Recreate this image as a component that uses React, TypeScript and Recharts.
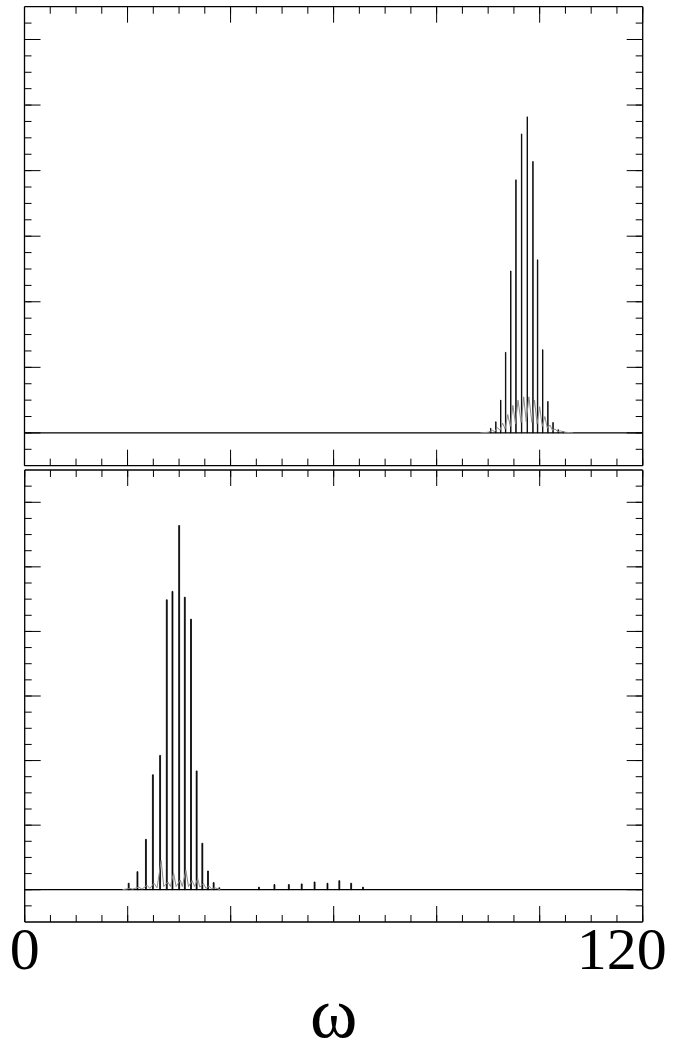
import React from 'react'
import {
  ComposedChart,
  Bar,
  Line,
  XAxis,
  YAxis,
  ReferenceLine,
  Label,
} from 'recharts'

// peak positions (omega) and heights
const topSpikeX = [90.5, 91.5, 92.45, 93.4, 94.4, 95.4, 96.5, 97.6, 98.7, 99.6, 100.6, 101.6, 102.6, 103.6, 104.6]
const topSpikeY = [0.07, 0.17, 0.5, 1.23, 2.47, 3.86, 4.56, 4.82, 4.14, 2.64, 1.27, 0.48, 0.16, 0.05, 0.02]

const topGrayX = [88.5, 90.0, 90.8, 91.3, 91.8, 92.3, 92.8, 93.3, 93.8, 94.3, 94.8, 95.3, 95.8, 96.4, 96.9, 97.4, 97.9, 98.5, 99.0, 99.5, 100.0, 100.5, 101.0, 101.5, 102.0, 102.5, 103.0, 103.5, 104.0, 105.0, 106.5]
const topGrayY = [0, 0.01, 0.04, 0.02, 0.08, 0.04, 0.15, 0.06, 0.28, 0.1, 0.42, 0.14, 0.5, 0.16, 0.55, 0.17, 0.55, 0.16, 0.5, 0.14, 0.4, 0.1, 0.25, 0.07, 0.12, 0.04, 0.06, 0.02, 0.03, 0.01, 0]

const bottomSpikeX = [20.2, 21.9, 23.55, 24.9, 26.3, 27.6, 28.7, 30.0, 31.1, 32.3, 33.4, 34.5, 35.6, 36.7, 37.8, 45.5, 48.5, 51.3, 53.8, 56.3, 58.8, 61.1, 63.4, 65.7]
const bottomSpikeY = [0.1, 0.28, 0.78, 1.78, 2.08, 4.49, 4.62, 5.64, 4.53, 4.19, 1.84, 0.72, 0.29, 0.11, 0.03, 0.04, 0.08, 0.08, 0.09, 0.12, 0.1, 0.14, 0.1, 0.04]

const bottomGrayX = [19, 20.4, 21, 22.1, 22.8, 23.75, 24.3, 25.1, 25.7, 26.5, 27.0, 27.8, 28.3, 28.9, 29.4, 30.2, 30.6, 31.3, 31.8, 32.5, 33.0, 33.6, 34.0, 34.7, 35.2, 35.8, 36.3, 36.9, 38]
const bottomGrayY = [0, 0.02, 0.01, 0.04, 0.01, 0.07, 0.02, 0.1, 0.03, 0.45, 0.05, 0.12, 0.05, 0.26, 0.05, 0.15, 0.05, 0.3, 0.05, 0.14, 0.05, 0.17, 0.04, 0.1, 0.02, 0.06, 0.01, 0.03, 0]

const xMinorTicks = [0, 5, 10, 15, 20, 25, 30, 35, 40, 45, 50, 55, 60, 65, 70, 75, 80, 85, 90, 95, 100, 105, 110, 115, 120]
const xMajorTicks = [0, 20, 40, 60, 80, 100, 120]
const yMinorTicks = [-0.25, 0, 0.25, 0.5, 0.75, 1, 1.25, 1.5, 1.75, 2, 2.25, 2.5, 2.75, 3, 3.25, 3.5, 3.75, 4, 4.25, 4.5, 4.75, 5, 5.25, 5.5, 5.75, 6, 6.25]
const yMajorTicks = [0, 1, 2, 3, 4, 5, 6]
const xLabelTicks = [0, 120]

const FONT = '"Liberation Serif", "Times New Roman", serif'

function buildRows(sx: number[], sy: number[], gx: number[], gy: number[]) {
  const rows: { x: number; spike?: number; gray?: number }[] = []
  sx.forEach((x, i) => rows.push({ x, spike: sy[i] }))
  gx.forEach((x, i) => rows.push({ x, gray: gy[i] }))
  return rows.sort((a, b) => a.x - b.x)
}

// tick lines only, no text
const NoText = () => <g />

// the "120" sits left of the corner so it stays inside the page
function EdgeTick(props: any) {
  const { x, y, payload } = props
  const last = payload.value === 120
  return (
    <text x={last ? x - 21 : x} y={y} dy="0.71em" textAnchor="middle"
      fill="#000" fontSize={60} fontFamily={FONT}>
      {payload.value}
    </text>
  )
}

interface PanelProps {
  rows: { x: number; spike?: number; gray?: number }[]
  height: number
  margin: { top: number; right: number; bottom: number; left: number }
  withLabels?: boolean
}

function Panel({ rows, height, margin, withLabels }: PanelProps) {
  const line = { stroke: '#000', strokeWidth: 1.3 }
  const tl = { stroke: '#000', strokeWidth: 1 }
  const xCommon = { dataKey: 'x', type: 'number' as const, domain: [0, 120], allowDataOverflow: true, interval: 0 as const }
  const yCommon = { type: 'number' as const, domain: [-0.5, 6.5], allowDataOverflow: true, interval: 0 as const }
  return (
    <ComposedChart width={678} height={height} data={rows} margin={margin}>
      <XAxis xAxisId="x" {...xCommon} orientation="bottom" mirror height={1} ticks={xMinorTicks}
        tick={NoText} tickSize={7} tickLine={tl} axisLine={line} />
      <XAxis xAxisId="xb" {...xCommon} orientation="bottom" mirror height={1} ticks={xMajorTicks}
        tick={NoText} tickSize={15} tickLine={tl} axisLine={false} />
      <XAxis xAxisId="xt" {...xCommon} orientation="top" mirror height={1} ticks={xMinorTicks}
        tick={NoText} tickSize={7} tickLine={tl} axisLine={line} />
      <XAxis xAxisId="xtm" {...xCommon} orientation="top" mirror height={1} ticks={xMajorTicks}
        tick={NoText} tickSize={15} tickLine={tl} axisLine={false} />
      {withLabels && (
        <XAxis xAxisId="lbl" {...xCommon} orientation="bottom" height={127}
          ticks={xLabelTicks} tickLine={false} axisLine={false} tickSize={0} tickMargin={4}
          tick={<EdgeTick />}>
          <Label value="ω" position="insideBottom" offset={12}
            style={{ fill: '#000', fontSize: 72, fontFamily: FONT }} />
        </XAxis>
      )}
      <YAxis yAxisId="y" {...yCommon} orientation="left" mirror width={1} ticks={yMinorTicks}
        tick={NoText} tickSize={7} tickLine={tl} axisLine={line} />
      <YAxis yAxisId="yl" {...yCommon} orientation="left" mirror width={1} ticks={yMajorTicks}
        tick={NoText} tickSize={15} tickLine={tl} axisLine={false} />
      <YAxis yAxisId="yr" {...yCommon} orientation="right" mirror width={1} ticks={yMinorTicks}
        tick={NoText} tickSize={7} tickLine={tl} axisLine={line} />
      <YAxis yAxisId="yrm" {...yCommon} orientation="right" mirror width={1} ticks={yMajorTicks}
        tick={NoText} tickSize={15} tickLine={tl} axisLine={false} />
      <ReferenceLine xAxisId="x" yAxisId="y" y={0} stroke="#000" strokeWidth={1.2} />
      <Line xAxisId="x" yAxisId="y" dataKey="gray" type="linear" stroke="#8a8a8a" strokeWidth={1}
        dot={false} connectNulls isAnimationActive={false} />
      <Bar xAxisId="x" yAxisId="y" dataKey="spike" fill="#000" stroke="#000" strokeWidth={0.8}
        barSize={2} isAnimationActive={false} />
    </ComposedChart>
  )
}

export default function App() {
  const topRows = buildRows(topSpikeX, topSpikeY, topGrayX, topGrayY)
  const bottomRows = buildRows(bottomSpikeX, bottomSpikeY, bottomGrayX, bottomGrayY)
  return (
    <div style={{ position: 'absolute', left: 0, top: 0, width: 678, height: 1049, background: '#fff' }}>
      <div style={{ position: 'absolute', left: 0, top: 0 }}>
        <Panel rows={topRows} height={470}
          margin={{ top: 6.7, right: 35.3, bottom: 4.3, left: 24.5 }} />
      </div>
      <div style={{ position: 'absolute', left: 0, top: 466 }}>
        <Panel rows={bottomRows} height={583} withLabels
          margin={{ top: 4, right: 35.3, bottom: 0, left: 24.7 }} />
      </div>
    </div>
  )
}
